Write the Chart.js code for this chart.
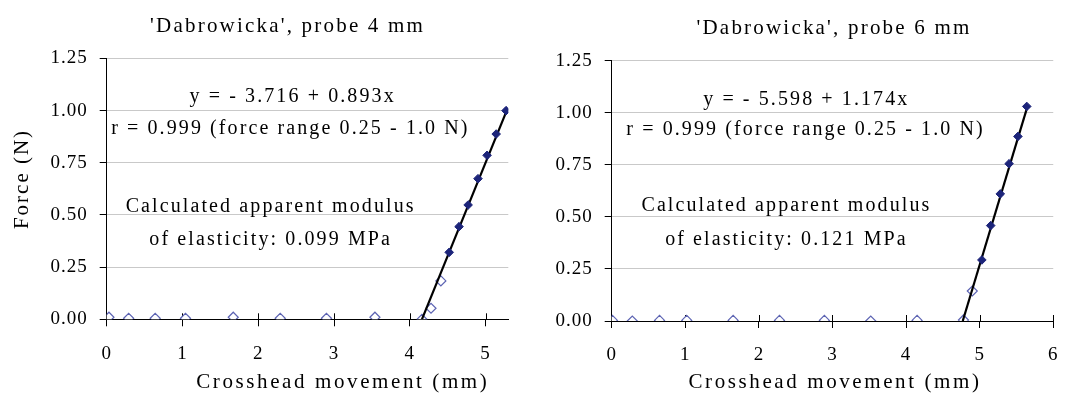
<!DOCTYPE html>
<html>
<head>
<meta charset="utf-8">
<script src="https://cdn.jsdelivr.net/npm/chart.js@4/dist/chart.umd.min.js"></script>
<style>
html,body{margin:0;padding:0;background:#fff}
#wrap{position:relative;width:1074px;height:394px;overflow:hidden}
.cv{position:absolute;top:0;width:537px;height:394px}
</style>
</head>
<body>
<div id="wrap">
  <div class="cv" style="left:0"><canvas id="cL"></canvas></div>
  <div class="cv" style="left:537px"><canvas id="cR"></canvas></div>
</div>
<script>
// ── probe 4 mm (left) ──
var openX_L=[0.03,0.29,0.64,1.04,1.67,2.29,2.90,3.54,4.16,4.28,4.41];
var openY_L=[0.01,0.005,0.005,0.005,0.01,0.005,0.005,0.01,0.0,0.053,0.184];
var fillX_L=[4.52,4.65,4.77,4.90,5.02,5.14,5.27];
var fillY_L=[0.321,0.444,0.548,0.674,0.786,0.888,1.000];
var fitX_L=[4.16,5.29];
var fitY_L=[0.0,1.01];
var notes_L=['y = - 3.716 + 0.893x','r = 0.999 (force range 0.25 - 1.0 N)','Calculated apparent modulus','of elasticity: 0.099 MPa'];

// ── probe 6 mm (right) ──
var openX_R=[0.01,0.28,0.65,1.02,1.65,2.28,2.89,3.52,4.15,4.78,4.90];
var openY_R=[0.003,0.0,0.003,0.003,0.003,0.003,0.003,0.0,0.003,0.005,0.144];
var fillX_R=[5.03,5.15,5.28,5.40,5.52,5.64];
var fillY_R=[0.293,0.458,0.610,0.755,0.886,1.03];
var fitX_R=[4.77,5.65];
var fitY_R=[0.0,1.03];
var notes_R=['y = - 5.598 + 1.174x','r = 0.999 (force range 0.25 - 1.0 N)','Calculated apparent modulus','of elasticity: 0.121 MPa'];

var yTicks=[0,0.25,0.5,0.75,1.0,1.25];
var xTitle='Crosshead movement (mm)', yTitle='Force (N)';

var SERIF='"Liberation Serif", "Times New Roman", serif';
var NAVY='#1c247a', LAV='#5d64b3', GRID='#c9c9c9';

function pts(xs,ys){return xs.map(function(x,i){return{x:x,y:ys[i]};});}

/* text + cross ticks drawn on top of the chart */
var deco={
  id:'deco',
  beforeDraw:function(ch){ch.ctx.letterSpacing='1px';},
  beforeDatasetsDraw:function(ch){
    var c=ch.ctx,xs=ch.scales.x,y0=ch.scales.y.getPixelForValue(0);
    c.save();c.strokeStyle='#000';c.lineWidth=1;
    xs.ticks.forEach(function(t){var px=Math.round(xs.getPixelForValue(t.value))+0.5;c.beginPath();c.moveTo(px,y0-6);c.lineTo(px,y0);c.stroke();});
    c.restore();
  },
  afterDraw:function(ch,args,opt){
    var c=ch.ctx;
    (opt.items||[]).forEach(function(it){
      c.save();
      c.letterSpacing=it.sp+'px';
      c.font=it.size+'px '+SERIF;
      c.fillStyle='#000';
      c.textAlign='center';
      var x=it.x,y=it.y;
      if(it.data){x=ch.scales.x.getPixelForValue(it.x);y=ch.scales.y.getPixelForValue(it.y);}
      if(it.rot){
        c.textBaseline='middle';c.translate(x,y);c.rotate(-Math.PI/2);c.fillText(it.t,it.sp/2,0);
      }else{
        c.textBaseline='alphabetic';c.fillText(it.t,x+it.sp/2,y);
      }
      c.restore();
    });
  }
};

function makeChart(id,o){
  return new Chart(document.getElementById(id),{
    type:'scatter',
    data:{datasets:[
      {data:pts(o.fillX,o.fillY),pointStyle:'rectRot',pointRadius:4.3,backgroundColor:NAVY,borderColor:NAVY,borderWidth:1},
      {data:pts(o.fitX,o.fitY),showLine:true,pointRadius:0,borderColor:'#000',borderWidth:2.2},
      {data:pts(o.openX,o.openY),pointStyle:'rectRot',pointRadius:5,backgroundColor:'#fff',borderColor:LAV,borderWidth:1.2}
    ]},
    options:{
      responsive:true,maintainAspectRatio:false,animation:false,events:[],
      layout:{padding:o.pad},
      plugins:{legend:{display:false},tooltip:{enabled:false},deco:{items:o.texts}},
      scales:{
        x:{type:'linear',min:0,max:o.xMax,
          afterFit:function(s){s.height=o.xH;},
          ticks:{stepSize:1,includeBounds:false,maxRotation:0,color:'#000',padding:16,font:{family:SERIF,size:19}},
          grid:{drawOnChartArea:false,color:'#000',tickColor:'#000',tickLength:7},
          border:{color:'#000',width:1}},
        y:{type:'linear',min:0,max:1.25,
          afterFit:function(s){s.width=o.yW;},
          afterBuildTicks:function(s){s.ticks=yTicks.map(function(v){return{value:v};});},
          ticks:{color:'#000',padding:12,font:{family:SERIF,size:19},callback:function(v){return Number(v).toFixed(2);}},
          grid:{color:function(c){return c.tick&&c.tick.value===0?'rgba(0,0,0,0)':GRID;},tickColor:'#000',tickLength:7},
          border:{color:'#000',width:1}}
      }
    },
    plugins:[deco]
  });
}

function noteItems(n,pos){
  return n.map(function(t,i){return{t:t,x:pos[i][0],y:pos[i][1],data:true,size:20,sp:2.1};});
}

makeChart('cL',{
  openX:openX_L,openY:openY_L,fillX:fillX_L,fillY:fillY_L,fitX:fitX_L,fitY:fitY_L,
  xMax:5.3,pad:{left:0,right:28.7,top:58.5,bottom:0},yW:106.7,xH:74.7,
  texts:[
    {t:"'Dabrowicka', probe 4 mm",x:286.5,y:32,size:21,sp:2.2},
    {t:xTitle,x:341.5,y:388,size:21,sp:2.6},
    {t:yTitle,x:22.4,y:180,size:21,sp:2,rot:true}
  ].concat(noteItems(notes_L,[[2.44,1.042],[2.41,0.890],[2.15,0.514],[2.15,0.354]]))
});

makeChart('cR',{
  openX:openX_R,openY:openY_R,fillX:fillX_R,fillY:fillY_R,fitX:fitX_R,fitY:fitY_R,
  xMax:6,pad:{left:0,right:6.3,top:60.6,bottom:0},yW:74.7,xH:73,
  texts:[
    {t:"'Dabrowicka', probe 6 mm",x:295.9,y:34,size:21,sp:2.2},
    {t:xTitle,x:296.7,y:388,size:21,sp:2.6}
  ].concat(noteItems(notes_R,[[2.63,1.037],[2.62,0.893],[2.36,0.526],[2.36,0.365]]))
});
</script>
</body>
</html>
